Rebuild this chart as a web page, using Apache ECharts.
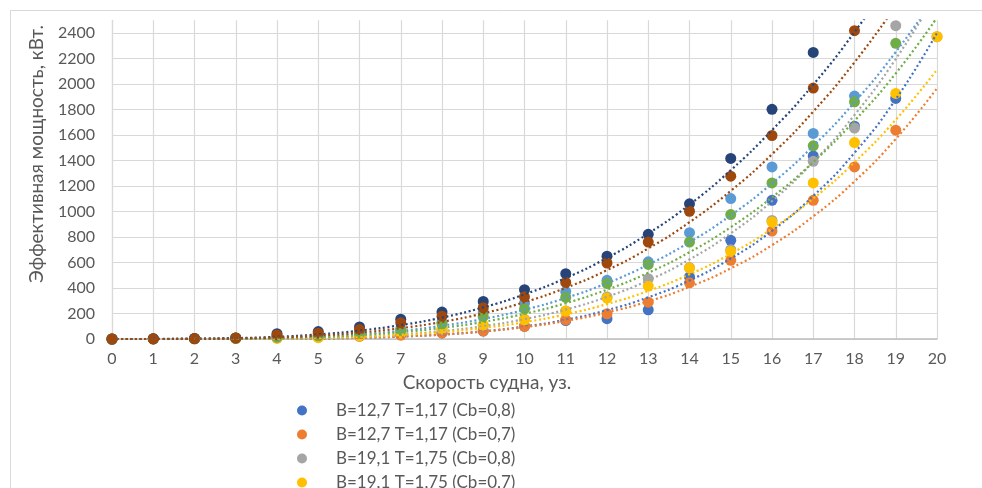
<!DOCTYPE html>
<html>
<head>
<meta charset="utf-8">
<script src="https://cdn.jsdelivr.net/npm/echarts@6/dist/echarts.min.js"></script>
<style>
  html, body { margin: 0; padding: 0; background: #ffffff; }
  #chart { width: 982px; height: 488px; }
</style>
</head>
<body>
<div id="chart"></div>
<script>
// Speeds, knots (x values)
const speeds = [0, 1, 2, 3, 4, 5, 6, 7, 8, 9, 10, 11, 12, 13, 14, 15, 16, 17, 18, 19, 20];

const seriesNames = [
  'B=12,7 T=1,17 (Cb=0,8)',
  'B=12,7 T=1,17 (Cb=0,7)',
  'B=19,1 T=1,75 (Cb=0,8)',
  'B=19,1 T=1,75 (Cb=0,7)',
  'B=15,9 T=1,46 (Cb=0,8)',
  'B=15,9 T=1,46 (Cb=0,7)',
  'B=22,3 T=2,04 (Cb=0,8)',
  'B=22,3 T=2,04 (Cb=0,7)'
];

const seriesColors = ['#4472C4', '#ED7D31', '#A5A5A5', '#FFC000', '#5B9BD5', '#70AD47', '#264478', '#9E480E'];

// Effective power, kW (one value per speed; null = no point)
const power1 = [0, 0.5, 2, 5, 10, 16, 25, 35, 48, 62, 100, 145, 159, 229, 487, 774, 1088, 1436, 1669, 1887, null];
const power2 = [0, 0.4, 1.5, 4, 8, 14, 21, 30, 48, 64, 100, 151, 198, 289, 441, 617, 847, 1088, 1350, 1638, 2371];
const power3 = [0, 0.5, 2, 6, 12, 20, 32, 50, 75, 105, 155, 220, 330, 473, 560, 700, 930, 1394, 1655, 2457, null];
const power4 = [0, 0.5, 2, 5, 5, 10, 25, 46, 80, 111, 151, 219, 321, 415, 556, 687, 918, 1224, 1541, 1926, 2371];
const power5 = [0, 1, 3, 8, 15, 28, 50, 80, 132, 211, 281, 372, 460, 605, 834, 1101, 1350, 1612, 1905, null, null];
const power6 = [0, 1, 3, 7, 14, 25, 45, 67, 119, 177, 236, 326, 436, 585, 760, 976, 1224, 1515, 1860, 2319, null];
const power7 = [0, 2, 4, 8, 42, 58, 95, 155, 211, 295, 387, 512, 650, 821, 1060, 1416, 1801, 2248, null, null, null];
const power8 = [0, 1, 3, 8, 32, 45, 74, 127, 179, 245, 331, 444, 596, 760, 1002, 1277, 1596, 1968, 2418, null, null];

// Trend curves, kW at each speed
const trend1 = [0, 0, 0.06, 0.38, 1.45, 4, 9.3, 19, 35, 60, 98, 151, 226, 327, 459, 631, 849, 1122, 1460, 1880, 2400];
const trend2 = [0, 0, 0.08, 0.47, 1.65, 4.4, 9.8, 19.4, 35, 59, 93, 142, 208, 295, 409, 554, 736, 962, 1236, 1569, 1966];
const trend3 = [0, 0.01, 0.2, 1.1, 3.6, 9, 19, 36, 62, 101, 156, 231, 331, 460, 624, 829, 1081, 1389, 1757, 2196, 2711];
const trend4 = [0, 0.01, 0.21, 1.07, 3.4, 8.3, 17, 32, 54, 87, 132, 193, 274, 377, 507, 668, 865, 1102, 1386, 1720, 2112];
const trend5 = [0, 0.1, 0.74, 3.2, 8.8, 19.4, 37, 64, 104, 157, 229, 322, 438, 583, 759, 970, 1220, 1514, 1856, 2251, 2702];
const trend6 = [0, 0.04, 0.54, 2.4, 6.9, 15.6, 30.4, 53.5, 87, 134, 198, 281, 387, 519, 681, 877, 1111, 1388, 1712, 2083, 2521];
const trend7 = [0, 0.2, 2, 7, 17, 36, 66, 109, 168, 248, 350, 478, 636, 827, 1054, 1324, 1638, 1995, 2407, 2871, null];
const trend8 = [0, 0.1, 1.2, 4.6, 12.5, 27, 50, 85, 134, 201, 289, 401, 540, 710, 916, 1162, 1449, 1784, 2170, 2610, null];

const yTicks = [0, 200, 400, 600, 800, 1000, 1200, 1400, 1600, 1800, 2000, 2200, 2400];

const powers = [power1, power2, power3, power4, power5, power6, power7, power8];
const trends = [trend1, trend2, trend3, trend4, trend5, trend6, trend7, trend8];

const FONT = 'Lato';
const TEXT = '#595959';

function pairs(values) {
  const out = [];
  values.forEach((v, i) => { if (v !== null) out.push([speeds[i], v]); });
  return out;
}

const series = [];
powers.forEach((vals, k) => {
  series.push({
    name: seriesNames[k],
    type: 'scatter',
    symbol: 'circle',
    symbolSize: 11,
    itemStyle: { color: seriesColors[k], opacity: 1 },
    data: pairs(vals),
    z: 2,
    emphasis: { disabled: true }
  });
});
trends.forEach((vals, k) => {
  series.push({
    name: seriesNames[k] + ' trend',
    type: 'line',
    smooth: true,
    showSymbol: false,
    symbol: 'none',
    lineStyle: { color: seriesColors[k], width: 2.2, type: [2, 2.6], cap: 'butt' },
    data: pairs(vals),
    z: 3,
    silent: true
  });
});

const chart = echarts.init(document.getElementById('chart'), null, { renderer: 'canvas' });
chart.setOption({
  animation: false,
  backgroundColor: '#ffffff',
  grid: { left: 112, right: 45, top: 20.25, bottom: 149, containLabel: false },
  xAxis: {
    type: 'value',
    min: 0, max: 20, interval: 1,
    axisLine: { show: true, onZero: false, lineStyle: { color: '#bfbfbf', width: 1.5 } },
    axisTick: { show: false },
    axisLabel: { color: TEXT, fontFamily: FONT, fontSize: 16, margin: 12 },
    splitLine: { show: true, lineStyle: { color: '#d9d9d9', width: 1.2 } }
  },
  yAxis: {
    type: 'value',
    min: 0, max: 2500, interval: 200,
    axisLine: { show: true, lineStyle: { color: '#d9d9d9', width: 1.2 } },
    axisTick: { show: false },
    axisLabel: {
      color: TEXT, fontFamily: FONT, fontSize: 16, margin: 17,
      showMaxLabel: false,
      formatter: v => (yTicks.indexOf(v) >= 0 ? String(v) : '')
    },
    splitLine: { show: true, showMaxLine: false, lineStyle: { color: '#d9d9d9', width: 1.2 } }
  },
  legend: {
    show: true,
    orient: 'vertical',
    left: 292, top: 395,
    height: 400,
    itemWidth: 58, itemHeight: 10,
    itemGap: 3,
    icon: 'circle',
    selectedMode: false,
    data: seriesNames,
    textStyle: { color: TEXT, fontFamily: FONT, fontSize: 17, lineHeight: 21 }
  },
  graphic: [
    {
      type: 'rect', silent: true, z: -1,
      shape: { x: 10.5, y: 10.5, width: 1000, height: 600 },
      style: { fill: null, stroke: '#d9d9d9', lineWidth: 1 }
    },
    {
      type: 'text', silent: true,
      x: 487, y: 383,
      style: { text: 'Скорость судна, уз.', fill: TEXT, font: '19px ' + FONT, align: 'center', verticalAlign: 'middle' }
    },
    {
      type: 'text', silent: true,
      x: 37, y: 154, rotation: Math.PI / 2,
      style: { text: 'Эффективная мощность, кВт.', fill: TEXT, font: '19px ' + FONT, align: 'center', verticalAlign: 'middle' }
    }
  ],
  series: series
});
</script>
</body>
</html>
